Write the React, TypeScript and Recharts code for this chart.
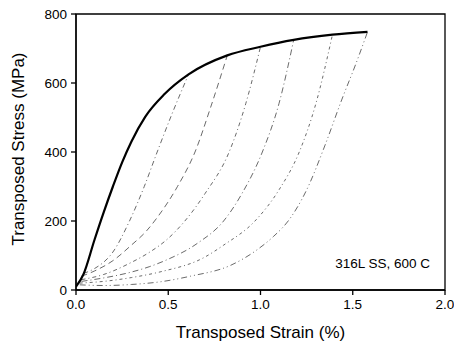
import React from 'react';
import {
  LineChart,
  Line,
  XAxis,
  YAxis,
  ReferenceArea,
} from 'recharts';

type Pt = { x: number; y: number };

const toPts = (xs: number[], ys: number[]): Pt[] => xs.map((x, i) => ({ x, y: ys[i] }));

// monotonic curve (thick)
const mainX = [0, 0.04, 0.1, 0.15, 0.2, 0.25, 0.3, 0.375, 0.48, 0.61, 0.82, 1.0, 1.18, 1.39, 1.58];
const mainY = [10, 45, 145, 225, 300, 370, 430, 502, 568, 625, 680, 705, 725, 740, 748];

// transposed reloading branches, one per peak
const c1X = [0.04, 0.1, 0.2, 0.29, 0.37, 0.44, 0.52, 0.61];
const c1Y = [48, 62, 110, 200, 300, 400, 510, 625];
const c2X = [0.03, 0.1, 0.2, 0.3, 0.38, 0.44, 0.55, 0.645, 0.73, 0.82];
const c2Y = [40, 55, 85, 130, 170, 210, 300, 400, 530, 680];
const c3X = [0.03, 0.15, 0.3, 0.4, 0.49, 0.59, 0.7, 0.83, 0.92, 1.0];
const c3Y = [30, 45, 80, 110, 145, 200, 280, 400, 540, 705];
const c4X = [0.03, 0.15, 0.3, 0.4, 0.49, 0.66, 0.8, 0.9, 1.01, 1.1, 1.18];
const c4Y = [25, 35, 52, 68, 87, 136, 200, 280, 400, 540, 725];
const c5X = [0.02, 0.15, 0.3, 0.46, 0.69, 0.8, 0.97, 1.1, 1.21, 1.3, 1.39];
const c5Y = [20, 25, 36, 53, 93, 130, 200, 290, 400, 540, 740];
const c6X = [0.02, 0.15, 0.3, 0.46, 0.62, 0.84, 0.98, 1.07, 1.15, 1.25, 1.35, 1.44, 1.52, 1.58];
const c6Y = [15, 13, 16, 24, 40, 72, 116, 155, 200, 290, 420, 551, 660, 748];

const xTicks = [0, 0.5, 1, 1.5, 2];
const xMinor = [0.25, 0.75, 1.25, 1.75];
const yTicks = [0, 200, 400, 600, 800];
const yMinor = [100, 300, 500, 700];

const branches = [
  toPts(c1X, c1Y),
  toPts(c2X, c2Y),
  toPts(c3X, c3Y),
  toPts(c4X, c4Y),
  toPts(c5X, c5Y),
  toPts(c6X, c6Y),
];
const dashes = ['5 3 1 3', '6 4', '4 3 1 3', '6 3 1 3', '3 3 1 3', '6 3 1 3 1 3'];

const FONT = '"Liberation Sans", Arial, sans-serif';

export default function App() {
  return (
    <div style={{ position: 'fixed', left: 0, top: 0, width: 454, height: 342, background: '#fff' }}>
      <LineChart width={454} height={342} margin={{ top: 14, right: 9, left: 0, bottom: 0 }}>
        <XAxis
          dataKey="x"
          type="number"
          domain={[0, 2]}
          ticks={xTicks}
          tickFormatter={(v: number) => v.toFixed(1)}
          allowDataOverflow
          height={52}
          stroke="#000"
          strokeWidth={1.3}
          tickSize={5}
          tickMargin={4}
          tick={{ fill: '#000', fontSize: 13.5, fontFamily: FONT }}
          label={{
            value: 'Transposed Strain (%)',
            position: 'insideBottom',
            offset: 4,
            style: { fill: '#000', fontSize: 17, fontFamily: FONT },
          }}
        />
        <XAxis
          xAxisId="minor"
          dataKey="x"
          type="number"
          domain={[0, 2]}
          ticks={xMinor}
          tickFormatter={() => ''}
          height={0}
          mirror
          axisLine={false}
          tickSize={4}
          stroke="#000"
        />
        <YAxis
          type="number"
          domain={[0, 800]}
          ticks={yTicks}
          allowDataOverflow
          width={76}
          stroke="#000"
          strokeWidth={1.3}
          tickSize={5}
          tickMargin={4}
          tick={{ fill: '#000', fontSize: 13.5, fontFamily: FONT }}
          label={{
            content: () => (
              <text
                x={18}
                y={149}
                transform="rotate(-90 18 149)"
                textAnchor="middle"
                dominantBaseline="central"
                style={{ fill: '#000', fontSize: 17, fontFamily: FONT }}
              >
                Transposed Stress (MPa)
              </text>
            ),
          }}
        />
        <YAxis
          yAxisId="minor"
          type="number"
          domain={[0, 800]}
          ticks={yMinor}
          tickFormatter={() => ''}
          width={0}
          mirror
          axisLine={false}
          tickSize={4}
          stroke="#000"
        />
        <ReferenceArea x1={0} x2={2} y1={0} y2={800} fill="none" stroke="#000" strokeWidth={1.3} />
        {branches.map((d, i) => (
          <Line
            key={i}
            data={d}
            dataKey="y"
            type="monotone"
            stroke="#444"
            strokeWidth={0.8}
            strokeDasharray={dashes[i]}
            dot={false}
            isAnimationActive={false}
          />
        ))}
        <Line
          data={toPts(mainX, mainY)}
          dataKey="y"
          type="monotone"
          stroke="#000"
          strokeWidth={2.2}
          dot={false}
          isAnimationActive={false}
        />
        <text x={430} y={268} textAnchor="end" style={{ fill: '#000', fontSize: 13.5, fontFamily: FONT }}>
          316L SS, 600 C
        </text>
      </LineChart>
    </div>
  );
}
